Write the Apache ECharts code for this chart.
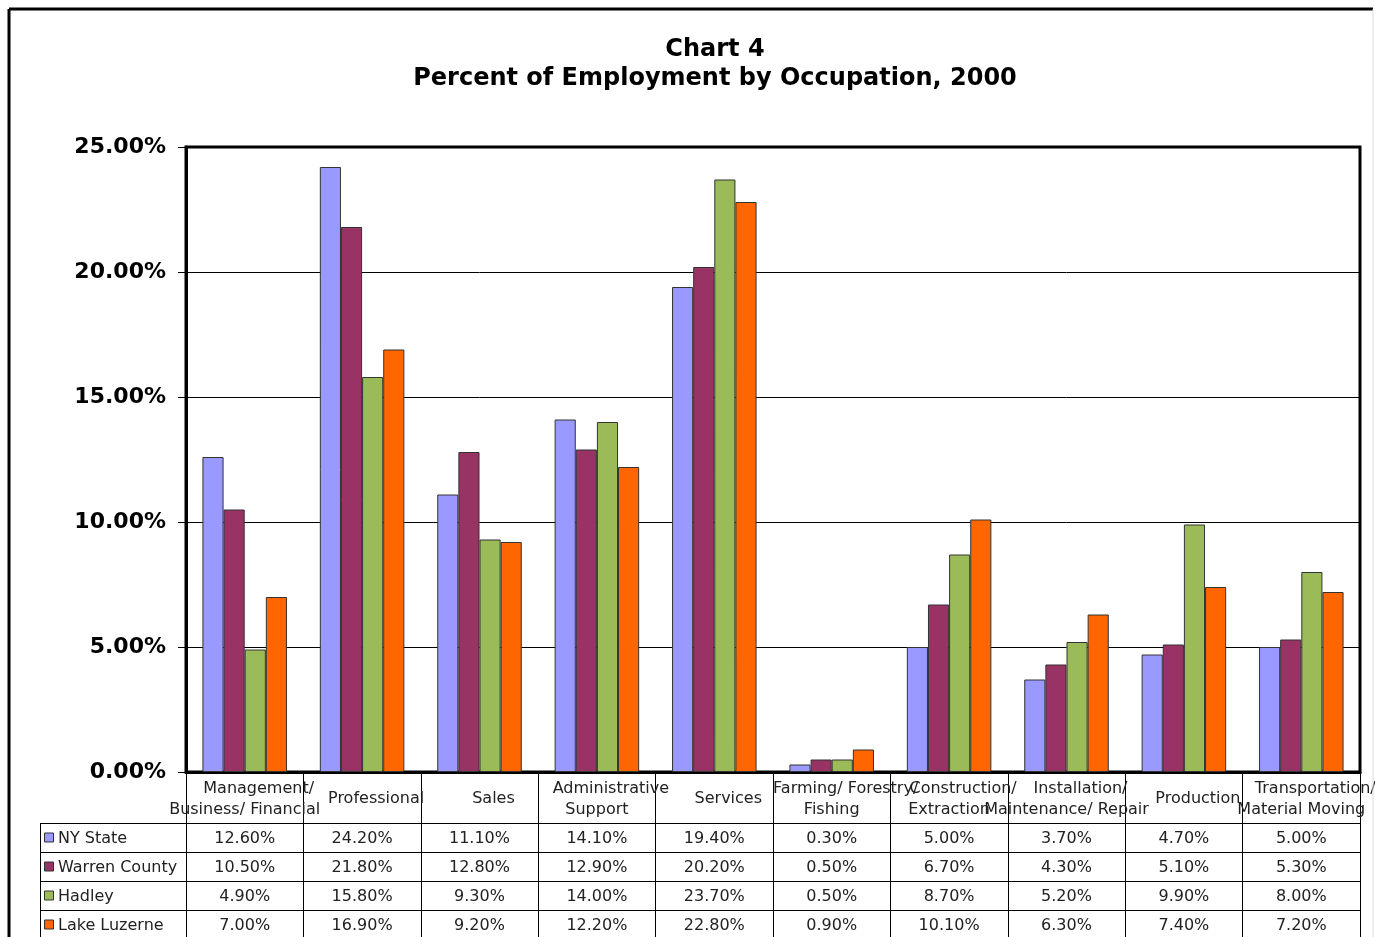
<!DOCTYPE html>
<html><head><meta charset="utf-8">
<script src="https://cdn.jsdelivr.net/npm/echarts@6/dist/echarts.min.js"></script>
<style>html,body{margin:0;padding:0;background:#fff}#c{width:1375px;height:937px}</style>
</head><body><div id="c"></div>
<script>
const categories = ['Management/\nBusiness/ Financial','Professional','Sales','Administrative\nSupport','Services','Farming/ Forestry/\nFishing','Construction/\nExtraction','Installation/\nMaintenance/ Repair','Production','Transportation/\nMaterial Moving'];
const seriesNames = ['NY State','Warren County','Hadley','Lake Luzerne'];
const nyState = [12.6,24.2,11.1,14.1,19.4,0.3,5.0,3.7,4.7,5.0];
const warrenCounty = [10.5,21.8,12.8,12.9,20.2,0.5,6.7,4.3,5.1,5.3];
const hadley = [4.9,15.8,9.3,14.0,23.7,0.5,8.7,5.2,9.9,8.0];
const lakeLuzerne = [7.0,16.9,9.2,12.2,22.8,0.9,10.1,6.3,7.4,7.2];
const yTicks = [0,5,10,15,20,25];
const colors = ['#9999FF','#993366','#9BBB59','#FF6600'];
const allSeries = [nyState, warrenCounty, hadley, lakeLuzerne];

const FONT = 'DejaVu Sans';
const GL = 186, GR = 1360, GT = 147, GB = 772;
const W = 1375, H = 937;
const rowTops = [823, 852, 881, 910];
const rowH = 29;
const colW = (GR - GL) / categories.length;

const chart = echarts.init(document.getElementById('c'), null, {renderer: 'canvas'});

const graphics = [];
// outer frame
graphics.push({type:'line', shape:{x1:9,y1:9,x2:1373,y2:9}, style:{stroke:'#000',lineWidth:3}, z:10});
graphics.push({type:'line', shape:{x1:9,y1:9,x2:9,y2:H}, style:{stroke:'#000',lineWidth:3}, z:10});
graphics.push({type:'line', shape:{x1:1373,y1:9,x2:1373,y2:H}, style:{stroke:'#ddd',lineWidth:1}, z:10});
// table horizontal lines
rowTops.forEach(function(y){
  graphics.push({type:'line', shape:{x1:40,y1:y+0.5,x2:GR,y2:y+0.5}, style:{stroke:'#000',lineWidth:1}, z:10});
});
graphics.push({type:'line', shape:{x1:40.5,y1:823,x2:40.5,y2:H}, style:{stroke:'#000',lineWidth:1}, z:10});
// legend cells + values
seriesNames.forEach(function(name, r){
  const cy = rowTops[r] + rowH/2 + 1;
  graphics.push({type:'rect', shape:{x:44.5,y:cy-5.5,width:9,height:9}, style:{fill:colors[r],stroke:'#333',lineWidth:1}, z:11});
  graphics.push({type:'text', x:58, y:cy, style:{text:name, fill:'#222', font:'16px "'+FONT+'"', verticalAlign:'middle', align:'left'}, z:11});
  allSeries[r].forEach(function(v, c){
    graphics.push({type:'text', x:GL + colW*(c+0.5), y:cy, style:{text:v.toFixed(2)+'%', fill:'#222', font:'16px "'+FONT+'"', verticalAlign:'middle', align:'center'}, z:11});
  });
});

const option = {
  backgroundColor:'#fff',
  animation:false,
  title:{
    text:'Chart 4\nPercent of Employment by Occupation, 2000',
    left:710, top:30, textAlign:'center',
    textStyle:{fontFamily:FONT, fontSize:24, fontWeight:'bold', color:'#000', lineHeight:29}
  },
  grid:{left:GL, right:W-GR, top:GT, bottom:H-GB, containLabel:false, outerBoundsMode:'none', show:true, borderColor:'#000', borderWidth:3, backgroundColor:'transparent'},
  xAxis:{
    type:'category', data:categories,
    axisLine:{show:true, lineStyle:{color:'#000', width:3}},
    axisTick:{show:true, length:H-GB, alignWithLabel:false, interval:0, lineStyle:{color:'#000', width:1}},
    axisLabel:{interval:0, margin:27, verticalAlign:'middle', fontFamily:FONT, fontSize:16, color:'#222', lineHeight:21, hideOverlap:false,
      formatter:function(v){
        const parts = v.split('\n');
        let s = '{a|' + parts[0] + '}';
        for (let i = 1; i < parts.length; i++) s += '\n{b|' + parts[i] + '}';
        return s;
      },
      rich:{
        a:{fontFamily:FONT, fontSize:16, color:'#222', lineHeight:21, padding:[0,0,0,28]},
        b:{fontFamily:FONT, fontSize:16, color:'#222', lineHeight:21}
      }
    },
    splitLine:{show:false}
  },
  yAxis:{
    type:'value', min:yTicks[0], max:yTicks[yTicks.length-1], interval:yTicks[1]-yTicks[0],
    axisLine:{show:true, lineStyle:{color:'#000', width:3}},
    axisTick:{show:true, length:8, lineStyle:{color:'#000', width:1}},
    axisLabel:{margin:20, fontFamily:FONT, fontSize:22, fontWeight:'bold', color:'#000', formatter:function(v){return v.toFixed(2)+'%';}},
    splitLine:{show:true, lineStyle:{color:'#000', width:1}}
  },
  series: seriesNames.map(function(name, i){
    return {name:name, type:'bar', data:allSeries[i], barGap:'0%', barCategoryGap:'28%',
      itemStyle:{color:colors[i], borderColor:'#333', borderWidth:1}};
  }),
  graphic: graphics
};
chart.setOption(option);
</script>
</body></html>
